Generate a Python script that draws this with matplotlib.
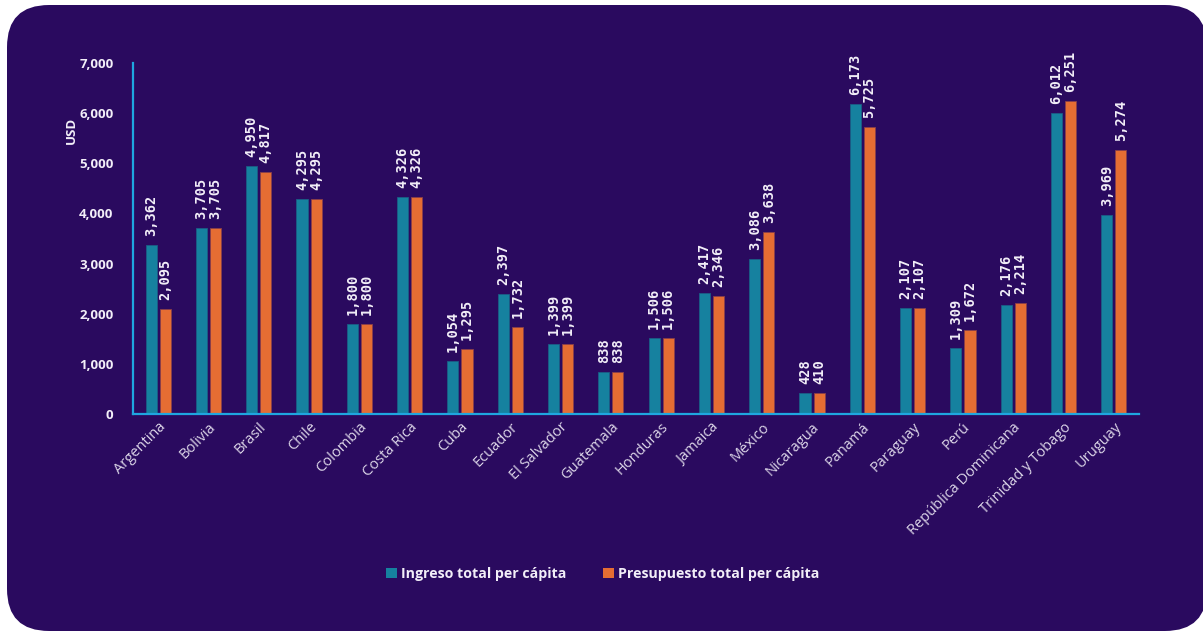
import numpy as np
import matplotlib.pyplot as plt
from matplotlib.patches import FancyBboxPatch
from matplotlib.ticker import FuncFormatter

# Ingreso y presupuesto per cápita por país (USD)
paises = ["Argentina", "Bolivia", "Brasil", "Chile", "Colombia", "Costa Rica",
          "Cuba", "Ecuador", "El Salvador", "Guatemala", "Honduras", "Jamaica",
          "México", "Nicaragua", "Panamá", "Paraguay", "Perú",
          "República Dominicana", "Trinidad y Tobago", "Uruguay"]
ingreso = [3362, 3705, 4950, 4295, 1800, 4326, 1054, 2397, 1399, 838,
           1506, 2417, 3086, 428, 6173, 2107, 1309, 2176, 6012, 3969]
presupuesto = [2095, 3705, 4817, 4295, 1800, 4326, 1295, 1732, 1399, 838,
               1506, 2346, 3638, 410, 5725, 2107, 1672, 2214, 6251, 5274]

BG = "#2a0a5f"
TEAL = "#16819f"
ORANGE = "#e56d33"
AXIS = "#1fa6e0"
TXT = "#f2eef8"

plt.rcParams["font.family"] = ["Open Sans", "DejaVu Sans"]

fig = plt.figure(figsize=(12.03, 6.35), dpi=100)
fig.patch.set_facecolor("white")

# fondo redondeado (detrás de los ejes)
bg = FancyBboxPatch((7 / 1203, 4 / 635), 1200 / 1203, 626 / 635,
                    boxstyle="round,pad=0,rounding_size=0.035",
                    transform=fig.transFigure, facecolor=BG, edgecolor="none",
                    mutation_aspect=1203 / 635, zorder=-10)
fig.patches.append(bg)

ax = fig.add_axes([133 / 1203, 1 - 414 / 635, 1006 / 1203, 351 / 635])
ax.set_facecolor("none")

x = np.arange(len(paises))
w = 0.22
off = 0.14
b1 = ax.bar(x - off, ingreso, w, color=TEAL, edgecolor="#1b5d85", linewidth=0.6,
            label="Ingreso total per cápita")
b2 = ax.bar(x + off, presupuesto, w, color=ORANGE, edgecolor="#8a3f4a", linewidth=0.6,
            label="Presupuesto total per cápita")

# etiquetas de valor verticales
for bars in (b1, b2):
    for r in bars:
        v = r.get_height()
        ax.text(r.get_x() + r.get_width() / 2, v + 180, f"{v:,.0f}",
                rotation=90, ha="center", va="bottom", color=TXT,
                fontsize=9.8, fontweight="bold", family="DejaVu Sans Mono")

ax.set_xlim(-0.5, len(paises) - 0.5)
ax.set_ylim(0, 7000)
ax.set_yticks(range(0, 7001, 1000))
ax.yaxis.set_major_formatter(FuncFormatter(lambda v, p: f"{v:,.0f}"))

for s in ("top", "right"):
    ax.spines[s].set_visible(False)
for s in ("left", "bottom"):
    ax.spines[s].set_color(AXIS)
    ax.spines[s].set_linewidth(1.6)

ax.tick_params(axis="y", length=0, pad=14, labelcolor=TXT, labelsize=9.5)
for t in ax.get_yticklabels():
    t.set_fontweight("bold")
ax.tick_params(axis="x", length=0, pad=4, labelcolor="#dcd6e8", labelsize=10.5)
ax.set_xticks(x)
ax.set_xticklabels(paises, rotation=45, ha="right", rotation_mode="anchor")

ax.text(-62 / 1006, (414 - 130) / 351, "USD", transform=ax.transAxes,
        rotation=90, ha="center", va="center", color=TXT,
        fontsize=9.5, fontweight="bold")

leg = fig.legend(loc="center", bbox_to_anchor=(603 / 1203, 1 - 574 / 635),
                 ncol=2, frameon=False, handlelength=0.75, handleheight=0.75,
                 handletextpad=0.3, columnspacing=2.6,
                 prop={"size": 10.2, "weight": "bold"})
for t in leg.get_texts():
    t.set_color(TXT)
for h in leg.legend_handles:
    h.set_edgecolor("none")

fig.savefig("out.png", dpi=100, facecolor=fig.get_facecolor())
